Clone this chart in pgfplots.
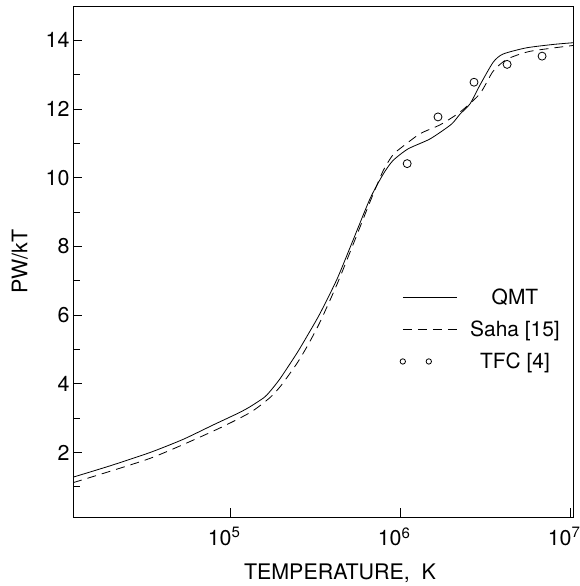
\documentclass[border=0pt]{standalone}
\usepackage{pgfplots}
\pgfplotsset{compat=1.18}
\usepackage{fontspec}
\setmainfont{TeX Gyre Heros}
\usetikzlibrary{calc}
\pgfplotsset{
  linelegend/.style={legend image code/.code={\draw[##1] (0bp,0bp) -- (54bp,0bp);}},
  circlegend/.style={legend image code/.code={%
    \node[draw=black, circle, minimum size=5.4bp, inner sep=0pt, line width=0.8bp] at (0bp,0bp) {};
    \node[draw=black, circle, minimum size=5.4bp, inner sep=0pt, line width=0.8bp] at (26bp,0bp) {};
    \path[draw=none] (0bp,0bp) -- (54bp,0bp);}},
}
\begin{document}
\begin{tikzpicture}
\begin{axis}[
  scale only axis,
  width=500bp, height=511bp,
  xmode=log,
  xmin=1.19e4, xmax=1.04e7,
  ymin=0.12, ymax=15,
  xtick={1e5,1e6,1e7},
  xticklabels={10\textsuperscript{5},10\textsuperscript{6},10\textsuperscript{7}},
  xminorticks=false,
  ytick={2,4,6,8,10,12,14},
  minor ytick={1,3,5,7,9,11,13},
  tick align=inside,
  xtick pos=bottom, ytick pos=left,
  major tick length=9bp, minor tick length=7bp,
  every tick/.style={black, line width=0.7bp},
  axis line style={line width=0.8bp},
  /pgf/number format/assume math mode=true,
  tick label style={font=\fontsize{21.5}{24}\selectfont},
  xticklabel style={yshift=-7bp, xshift=-6bp},
  label style={font=\fontsize{21.5}{24}\selectfont},
  xlabel={TEMPERATURE,\ \ K},
  ylabel={PW/kT},
  xlabel style={xshift=17bp},
  xlabel shift=11bp,
  ylabel shift=11bp,
  legend style={at={(0.647,0.455)}, anchor=north west, draw=none, fill=none,
    font=\fontsize{21}{24}\selectfont, row sep=11bp,
    /tikz/every odd column/.style={column sep=11bp}},
  legend cell align=center,
]
\addplot[black, line width=0.8bp, smooth, tension=0.4, linelegend]
coordinates {
(1.191e4,1.28) (1.995e4,1.62) (3.388e4,2.00) (5.284e4,2.38) (7.943e4,2.80)
(1.122e5,3.15) (1.309e5,3.33) (1.585e5,3.60) (1.718e5,3.78) (1.968e5,4.15)
(2.477e5,4.90) (2.884e5,5.45) (3.381e5,6.05) (4.256e5,7.05) (5.284e5,8.18)
(6.653e5,9.39) (7.943e5,10.10) (9.078e5,10.50) (1.114e6,10.84) (1.500e6,11.13)
(1.995e6,11.55) (2.249e6,11.85) (2.576e6,12.15) (2.951e6,12.70) (3.524e6,13.36)
(4.027e6,13.60) (5.508e6,13.78) (7.943e6,13.88) (1.04e7,13.93)
};
\addlegendentry{QMT}
\addplot[black, line width=0.8bp, dash pattern=on 9bp off 6bp, smooth, tension=0.4, linelegend]
coordinates {
(1.191e4,1.12) (3.388e4,1.83) (7.943e4,2.62) (1.309e5,3.16) (1.718e5,3.60)
(1.995e5,3.95) (2.477e5,4.60) (2.884e5,5.15) (3.381e5,5.80) (4.256e5,6.90)
(5.284e5,8.05) (6.653e5,9.30) (7.943e5,10.20) (9.078e5,10.67) (1.0e6,10.85)
(1.309e6,11.28) (1.718e6,11.54) (2.249e6,11.91) (2.951e6,12.45) (3.524e6,13.10)
(4.256e6,13.45) (5.808e6,13.68) (1.04e7,13.85)
};
\addlegendentry{Saha [15]}
\addplot[black, only marks, mark=o, mark size=4bp, mark options={line width=0.8bp}, circlegend]
coordinates {
(1.1e6,10.41) (1.67e6,11.77) (2.72e6,12.78) (4.26e6,13.30) (6.84e6,13.54)
};
\addlegendentry{TFC [4]}
\end{axis}
\pgfresetboundingbox
\useasboundingbox ($(current axis.south west)+(-73bp,-69bp)$) rectangle ($(current axis.north east)+(7bp,6bp)$);
\end{tikzpicture}
\end{document}
